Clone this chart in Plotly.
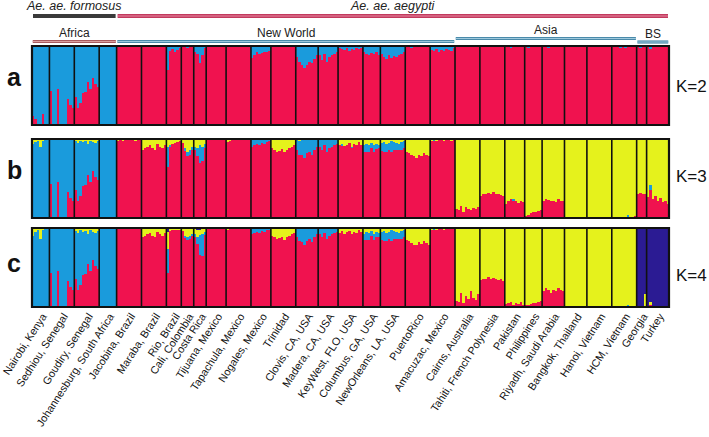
import plotly.graph_objects as go

# ---------------- data ----------------
POPS = ["Nairobi, Kenya", "Sedhiou, Senegal", "Goudiry, Senegal", "Johannesburg, South Africa",
        "Jacobina, Brazil", "Maraba, Brazil", "Rio, Brazil", "Cali, Colombia", "Costa Rica",
        "Tijuana, Mexico", "Tapachula, Mexico", "Nogales, Mexico", "Trinidad", "Clovis, CA, USA",
        "Madera, CA, USA", "KeyWest, FLO, USA", "Columbus, GA, USA", "NewOrleans, LA, USA",
        "PuertoRico", "Amacuzac, Mexico", "Cairns, Australia", "Tahiti, French Polynesia",
        "Pakistan", "Philippines", "Riyadh, Saudi Arabia", "Bangkok, Thailand", "Hanoi, Vietnam",
        "HCM, Vietnam", "Georgia", "Turkey"]

N_IND = [7, 10, 10, 7, 10, 10, 6, 5, 5, 8, 10, 8, 10, 9, 8, 10, 7, 10, 10, 10,
         10, 10, 8, 7, 9, 9, 10, 10, 4, 9]

GROUPS_TOP = [("<i>Ae. ae. formosus</i>", 0, 4), ("<i>Ae. ae. aegypti</i>", 4, 30)]
GROUPS_REGION = [("Africa", 0, 4), ("New World", 4, 20), ("Asia", 20, 28), ("BS", 28, 30)]
K_LABELS = ["K=2", "K=3", "K=4"]
PANEL_LETTERS = ["a", "b", "c"]

# percentages per individual (red = remainder)
K2_BLUE = [
    [89, 93, 100, 100, 86, 100, 100],
    [57, 100, 100, 54, 100, 100, 100, 67, 75, 78],
    [64, 78, 72, 60, 58, 46, 55, 40, 48, 52],
    [100, 100, 100, 100, 100, 100, 100],
    [0, 0, 0, 0, 0, 0, 0, 0, 0, 0],
    [0, 0, 0, 0, 0, 0, 0, 0, 0, 0],
    [30, 6, 4, 8, 5, 3],
    [0, 0, 2, 0, 0],
    [8, 10, 22, 12, 3],
    [0, 0, 0, 0, 0, 0, 0, 0],
    [0, 0, 0, 0, 0, 0, 0, 0, 0, 0],
    [15, 12, 8, 10, 9, 8, 7, 6],
    [0, 0, 0, 0, 0, 0, 0, 0, 0, 0],
    [14, 20, 24, 28, 24, 20, 22, 16, 12],
    [12, 18, 10, 20, 14, 12, 10, 8],
    [3, 4, 5, 3, 6, 4, 5, 3, 4, 2],
    [8, 10, 12, 9, 10, 8, 11],
    [10, 14, 16, 12, 15, 13, 14, 12, 10, 8],
    [0, 0, 2, 0, 0, 1, 0, 0, 0, 0],
    [5, 6, 4, 7, 5, 6, 4, 5, 6, 3],
    [0, 0, 0, 0, 0, 0, 0, 0, 0, 0],
    [0, 0, 0, 0, 0, 0, 0, 0, 0, 0],
    [0, 0, 3, 0, 0, 0, 0, 0],
    [0, 2, 0, 0, 0, 0, 0],
    [0, 0, 2, 0, 0, 0, 0, 0, 0],
    [0, 0, 0, 0, 0, 0, 0, 0, 0],
    [0, 0, 0, 0, 0, 0, 0, 0, 0, 0],
    [0, 0, 0, 3, 0, 2, 0, 0, 0, 0],
    [0, 2, 0, 0],
    [0, 4, 0, 0, 0, 0, 0, 0, 0],
]

K3_BLUE = [
    [94, 96, 97, 90, 98, 100, 100],
    [57, 100, 100, 54, 100, 100, 100, 67, 75, 78],
    [61, 73, 70, 56, 55, 40, 53, 36, 43, 49],
    [100, 100, 100, 100, 100, 100, 100],
    [0, 0, 0, 0, 0, 0, 0, 0, 0, 0],
    [0, 0, 0, 0, 0, 0, 0, 0, 0, 0],
    [25, 2, 0, 0, 0, 0],
    [0, 3, 5, 6, 4],
    [4, 10, 22, 18, 6],
    [0, 0, 0, 0, 0, 0, 0, 0],
    [0, 0, 0, 0, 0, 0, 0, 0, 0, 0],
    [10, 8, 6, 7, 5, 6, 4, 3],
    [0, 0, 0, 0, 0, 0, 0, 0, 0, 0],
    [14, 18, 20, 24, 18, 16, 20, 14, 10],
    [10, 14, 8, 16, 12, 10, 8, 6],
    [0, 2, 0, 0, 0, 1, 0, 0, 0, 0],
    [8, 10, 9, 6, 8, 7, 5],
    [10, 12, 11, 9, 13, 10, 9, 8, 10, 8],
    [0, 0, 0, 0, 0, 0, 0, 0, 0, 0],
    [0, 2, 0, 0, 0, 0, 0, 0, 0, 0],
    [0, 0, 0, 0, 0, 0, 0, 0, 0, 0],
    [0, 0, 0, 0, 0, 0, 0, 0, 0, 0],
    [0, 0, 0, 2, 0, 0, 0, 0],
    [0, 0, 0, 0, 0, 0, 0],
    [0, 0, 0, 0, 0, 0, 0, 0, 0],
    [0, 0, 0, 0, 0, 0, 0, 0, 0],
    [0, 0, 0, 0, 0, 0, 0, 0, 0, 0],
    [0, 0, 0, 0, 0, 0, 2, 0, 0, 0],
    [0, 0, 0, 0],
    [0, 6, 0, 0, 0, 0, 0, 0, 0],
]

K3_YELLOW = [
    [6, 4, 3, 10, 2, 0, 0],
    [0, 0, 0, 0, 0, 0, 0, 0, 0, 0],
    [3, 5, 2, 4, 3, 6, 2, 4, 5, 3],
    [0, 0, 0, 0, 0, 0, 0],
    [2, 1, 3, 0, 0, 1, 0, 2, 0, 0],
    [14, 12, 10, 8, 12, 14, 6, 10, 12, 8],
    [10, 8, 6, 5, 4, 3],
    [5, 12, 16, 14, 10],
    [10, 12, 8, 10, 6],
    [0, 0, 0, 0, 0, 0, 0, 0],
    [4, 2, 0, 0, 0, 0, 0, 0, 0, 0],
    [0, 0, 0, 0, 0, 0, 0, 0],
    [12, 14, 16, 15, 13, 17, 14, 12, 10, 8],
    [0, 2, 0, 0, 0, 0, 0, 0, 0],
    [0, 0, 0, 0, 0, 0, 0, 0],
    [8, 6, 9, 7, 5, 10, 6, 8, 4, 7],
    [8, 6, 7, 5, 8, 6, 7],
    [5, 4, 6, 5, 3, 4, 5, 6, 4, 3],
    [16, 18, 20, 22, 24, 20, 22, 18, 20, 22],
    [2, 0, 3, 1, 0, 2, 0, 1, 2, 0],
    [88, 90, 85, 92, 86, 88, 90, 87, 89, 86],
    [72, 70, 69, 68, 70, 67, 69, 70, 71, 72],
    [82, 78, 76, 76, 79, 81, 78, 80],
    [97, 96, 94, 93, 92, 91, 90],
    [78, 76, 77, 79, 78, 80, 76, 78, 79],
    [100, 100, 100, 100, 100, 100, 100, 100, 100],
    [100, 100, 100, 100, 100, 100, 100, 100, 100, 100],
    [100, 100, 100, 100, 100, 100, 96, 99, 99, 98],
    [70, 68, 69, 70],
    [74, 58, 76, 72, 78, 75, 80, 78, 82],
]

K4_BLUE = [
    [90, 95, 97, 86, 98, 100, 100],
    [57, 100, 100, 54, 100, 100, 100, 67, 75, 78],
    [60, 72, 69, 55, 54, 38, 52, 35, 42, 48],
    [100, 100, 100, 100, 100, 100, 100],
    [0, 0, 0, 0, 0, 0, 0, 0, 0, 0],
    [0, 0, 0, 0, 0, 0, 0, 0, 0, 0],
    [30, 0, 0, 0, 0, 0],
    [0, 2, 3, 4, 2],
    [3, 8, 25, 28, 4],
    [0, 0, 0, 0, 0, 0, 0, 0],
    [0, 0, 0, 0, 0, 0, 0, 0, 0, 0],
    [8, 6, 5, 6, 4, 5, 3, 3],
    [0, 0, 0, 0, 0, 0, 0, 0, 0, 0],
    [12, 16, 18, 22, 16, 14, 18, 12, 8],
    [8, 12, 6, 14, 10, 8, 6, 5],
    [0, 0, 0, 0, 0, 0, 0, 0, 0, 0],
    [8, 10, 9, 6, 8, 7, 5],
    [10, 12, 11, 9, 13, 10, 9, 8, 10, 8],
    [0, 0, 0, 0, 0, 0, 0, 0, 0, 0],
    [0, 2, 0, 0, 0, 0, 0, 0, 0, 0],
    [0, 0, 0, 0, 0, 0, 0, 0, 0, 0],
    [0, 0, 0, 0, 0, 0, 0, 0, 0, 0],
    [0, 0, 0, 0, 0, 0, 0, 0],
    [0, 0, 0, 0, 0, 0, 0],
    [0, 0, 0, 0, 0, 0, 0, 0, 0],
    [0, 0, 0, 0, 0, 0, 0, 0, 0],
    [0, 0, 0, 0, 0, 0, 0, 0, 0, 0],
    [0, 0, 0, 0, 0, 0, 3, 0, 0, 0],
    [0, 0, 0, 0],
    [0, 0, 0, 0, 0, 0, 0, 0, 0],
]

K4_YELLOW = [
    [10, 5, 3, 14, 2, 0, 0],
    [0, 0, 0, 0, 0, 0, 0, 0, 0, 0],
    [4, 6, 3, 5, 4, 8, 3, 5, 6, 4],
    [0, 0, 0, 0, 0, 0, 0],
    [0, 0, 0, 0, 0, 0, 0, 0, 0, 0],
    [12, 10, 8, 6, 10, 12, 5, 8, 10, 6],
    [22, 4, 3, 2, 3, 2],
    [4, 10, 12, 10, 8],
    [8, 10, 6, 8, 5],
    [0, 0, 0, 0, 0, 0, 0, 0],
    [3, 0, 0, 0, 0, 0, 0, 0, 0, 0],
    [0, 0, 0, 0, 0, 0, 0, 0],
    [10, 12, 14, 13, 11, 15, 12, 10, 8, 6],
    [0, 0, 0, 0, 0, 0, 0, 0, 0],
    [0, 0, 0, 0, 0, 0, 0, 0],
    [6, 4, 7, 5, 4, 8, 5, 6, 3, 5],
    [7, 5, 6, 4, 7, 5, 6],
    [5, 4, 6, 5, 3, 4, 5, 6, 4, 3],
    [15, 17, 19, 21, 22, 18, 20, 17, 19, 21],
    [2, 0, 2, 1, 0, 2, 0, 1, 1, 0],
    [92, 94, 82, 95, 86, 90, 80, 88, 91, 84],
    [66, 64, 65, 62, 64, 63, 65, 66, 64, 67],
    [96, 95, 94, 97, 95, 96, 94, 97],
    [98, 97, 96, 95, 95, 94, 93],
    [80, 76, 78, 82, 78, 80, 76, 78, 80],
    [100, 100, 100, 100, 100, 100, 100, 100, 100],
    [100, 100, 100, 100, 100, 100, 100, 100, 100, 100],
    [100, 100, 100, 100, 100, 100, 97, 100, 99, 100],
    [0, 0, 0, 16],
    [0, 4, 0, 0, 0, 0, 0, 0, 0],
]

K4_NAVY = [
    [0, 0, 0, 0, 0, 0, 0],
    [0, 0, 0, 0, 0, 0, 0, 0, 0, 0],
    [0, 0, 0, 0, 0, 0, 0, 0, 0, 0],
    [0, 0, 0, 0, 0, 0, 0],
    [0, 0, 0, 0, 0, 0, 0, 0, 0, 0],
    [0, 0, 0, 0, 0, 0, 0, 0, 0, 0],
    [5, 0, 0, 0, 0, 0],
    [0, 0, 0, 0, 0],
    [0, 2, 3, 0, 0],
    [0, 0, 0, 0, 0, 0, 0, 0],
    [0, 0, 0, 0, 0, 0, 0, 0, 0, 0],
    [0, 0, 0, 0, 0, 0, 0, 0],
    [0, 0, 0, 0, 0, 0, 0, 0, 0, 0],
    [0, 0, 0, 0, 0, 0, 0, 0, 0],
    [0, 0, 0, 0, 0, 0, 0, 0],
    [0, 0, 0, 0, 0, 0, 0, 0, 0, 0],
    [0, 0, 0, 0, 0, 0, 0],
    [0, 0, 0, 0, 0, 0, 0, 0, 0, 0],
    [0, 0, 0, 0, 0, 0, 0, 0, 0, 0],
    [0, 0, 0, 0, 0, 0, 0, 0, 0, 0],
    [0, 0, 0, 0, 0, 0, 0, 0, 0, 0],
    [0, 0, 0, 0, 0, 0, 0, 0, 0, 0],
    [0, 0, 0, 0, 0, 0, 0, 0],
    [0, 0, 0, 0, 0, 0, 0],
    [0, 0, 0, 0, 0, 0, 0, 0, 0],
    [0, 0, 0, 0, 0, 0, 0, 0, 0],
    [0, 0, 0, 0, 0, 0, 0, 0, 0, 0],
    [0, 0, 0, 0, 0, 0, 0, 0, 0, 0],
    [100, 100, 100, 84],
    [100, 94, 100, 100, 100, 100, 100, 100, 100],
]

# ---------------- style ----------------
RED, BLUE, YELLOW, NAVY = "#F0124F", "#1A9BDC", "#E5F21C", "#2B1B93"
FONT = "Liberation Sans, Arial, sans-serif"
W, H = 709, 437
L, T = 32, 46          # plot area left/top
R, B = W - 669, H - 307
PW, PH = W - L - R, H - T - B


def pxx(x):   # page pixel -> paper fraction
    return (x - L) / PW


def pyy(y):
    return (T + PH - y) / PH


DOMAINS = [[pyy(125), pyy(46)], [pyy(218), pyy(139)], [pyy(307), pyy(228)]]

# cumulative positions
starts = []
c = 0
for n in N_IND:
    starts.append(c)
    c += n
TOTAL = c
centers_pop = [s + n / 2 for s, n in zip(starts, N_IND)]
xs = [i + 0.5 for i in range(TOTAL)]


def flat(lists):
    out = []
    for p, l in enumerate(lists):
        assert len(l) == N_IND[p], (p, len(l), N_IND[p])
        out.extend(l)
    return out


panels = [
    [(BLUE, flat(K2_BLUE))],
    [(BLUE, flat(K3_BLUE)), (YELLOW, flat(K3_YELLOW))],
    [(BLUE, flat(K4_BLUE)), (YELLOW, flat(K4_YELLOW)), (NAVY, flat(K4_NAVY))],
]

fig = go.Figure()
for k, comps in enumerate(panels):
    xa = "x" if k == 0 else f"x{k + 1}"
    ya = "y" if k == 0 else f"y{k + 1}"
    red = [100 - sum(c[1][i] for c in comps) for i in range(TOTAL)]
    for color, vals in [(RED, red)] + comps:
        fig.add_trace(go.Bar(x=xs, y=vals, width=1, marker=dict(color=color, line=dict(width=0)),
                             xaxis=xa, yaxis=ya, showlegend=False, hoverinfo="skip"))

layout = dict(width=W, height=H, margin=dict(l=L, r=R, t=T, b=B, autoexpand=False), barmode="stack",
              bargap=0, plot_bgcolor="white", paper_bgcolor="white",
              font=dict(family=FONT, color="#111"))
for k in range(3):
    sx = "" if k == 0 else str(k + 1)
    layout["xaxis" + sx] = dict(range=[0, TOTAL], domain=[0, 1], anchor="y" + sx, showgrid=False,
                                zeroline=False, showticklabels=(k == 2), ticks="", fixedrange=True,
                                automargin=False)
    layout["yaxis" + sx] = dict(range=[0, 100], domain=DOMAINS[k], anchor="x" + sx, showgrid=False,
                                zeroline=False, showticklabels=False, ticks="", fixedrange=True,
                                automargin=False)
layout["xaxis3"].update(tickvals=centers_pop, ticktext=POPS, tickangle=-57, ticklabeloverflow="allow",
                        ticklabelshift=2, tickfont=dict(size=10.8, family=FONT, color="#111"))
fig.update_layout(**layout)

shapes = []
for k in range(3):
    sx = "" if k == 0 else str(k + 1)
    for s in starts[1:]:
        shapes.append(dict(type="line", xref="x" + sx, yref=f"y{sx} domain", x0=s, x1=s, y0=0, y1=1,
                           line=dict(color="#111", width=1.6)))
    shapes.append(dict(type="rect", xref=f"x{sx} domain", yref=f"y{sx} domain", x0=0, x1=1, y0=0, y1=1,
                       line=dict(color="#111", width=2.2)))

# group bars on top
top_colors = [("#3a3a3a", None), ("#c23a5e", "#e88aa2")]
for (name, a, b), (c1, c2) in zip(GROUPS_TOP, top_colors):
    x0, x1 = starts[a], (starts[b] if b < len(starts) else TOTAL)
    shapes.append(dict(type="line", xref="x", yref="paper", x0=x0 + 0.4, x1=x1 - 0.4, y0=pyy(16), y1=pyy(16),
                       line=dict(color=c1, width=4)))
    if c2:
        shapes.append(dict(type="line", xref="x", yref="paper", x0=x0 + 0.4, x1=x1 - 0.4, y0=pyy(16),
                           y1=pyy(16), line=dict(color=c2, width=1.2)))
    fig.add_annotation(x=(x0 + x1) / 2, y=pyy(6), xref="x", yref="paper", text=name, showarrow=False,
                       xanchor="center", yanchor="middle", font=dict(size=12.5, color="#222"))

region_style = [("#a85a5e", "#d9a0a0", 41.5), ("#4a8aaa", "#9cc8dc", 41.5),
                ("#4a8aaa", "#9cc8dc", 38.5), ("#4a8aaa", "#9cc8dc", 42)]
for (name, a, b), (c1, c2, yl) in zip(GROUPS_REGION, region_style):
    x0, x1 = starts[a], (starts[b] if b < len(starts) else TOTAL)
    for col, wd in [(c1, 3.2), (c2, 1.0)]:
        shapes.append(dict(type="line", xref="x", yref="paper", x0=x0 + 0.3, x1=x1 - 0.3, y0=pyy(yl),
                           y1=pyy(yl), line=dict(color=col, width=wd)))
    fig.add_annotation(x=(x0 + x1) / 2, y=pyy(yl - 8.5), xref="x", yref="paper", text=name, showarrow=False,
                       xanchor="center", yanchor="middle", font=dict(size=12, color="#222"))
fig.update_layout(shapes=shapes)

for letter, ypx in zip(PANEL_LETTERS, [77, 170, 263]):
    fig.add_annotation(x=pxx(14), y=pyy(ypx), xref="paper", yref="paper", text=f"<b>{letter}</b>",
                       showarrow=False, xanchor="center", yanchor="middle", font=dict(size=25, color="#111"))
for lab, ypx in zip(K_LABELS, [86, 176, 275]):
    fig.add_annotation(x=pxx(692), y=pyy(ypx), xref="paper", yref="paper", text=lab, showarrow=False,
                       xanchor="center", yanchor="middle", font=dict(size=17, color="#111"))

# remove the browser's default 8px page margin so the figure sits at the window origin
fig.write_html("out.html", config={"displayModeBar": False},
               post_script="document.body.style.margin='0px';"
                           "document.documentElement.style.overflow='hidden';")
